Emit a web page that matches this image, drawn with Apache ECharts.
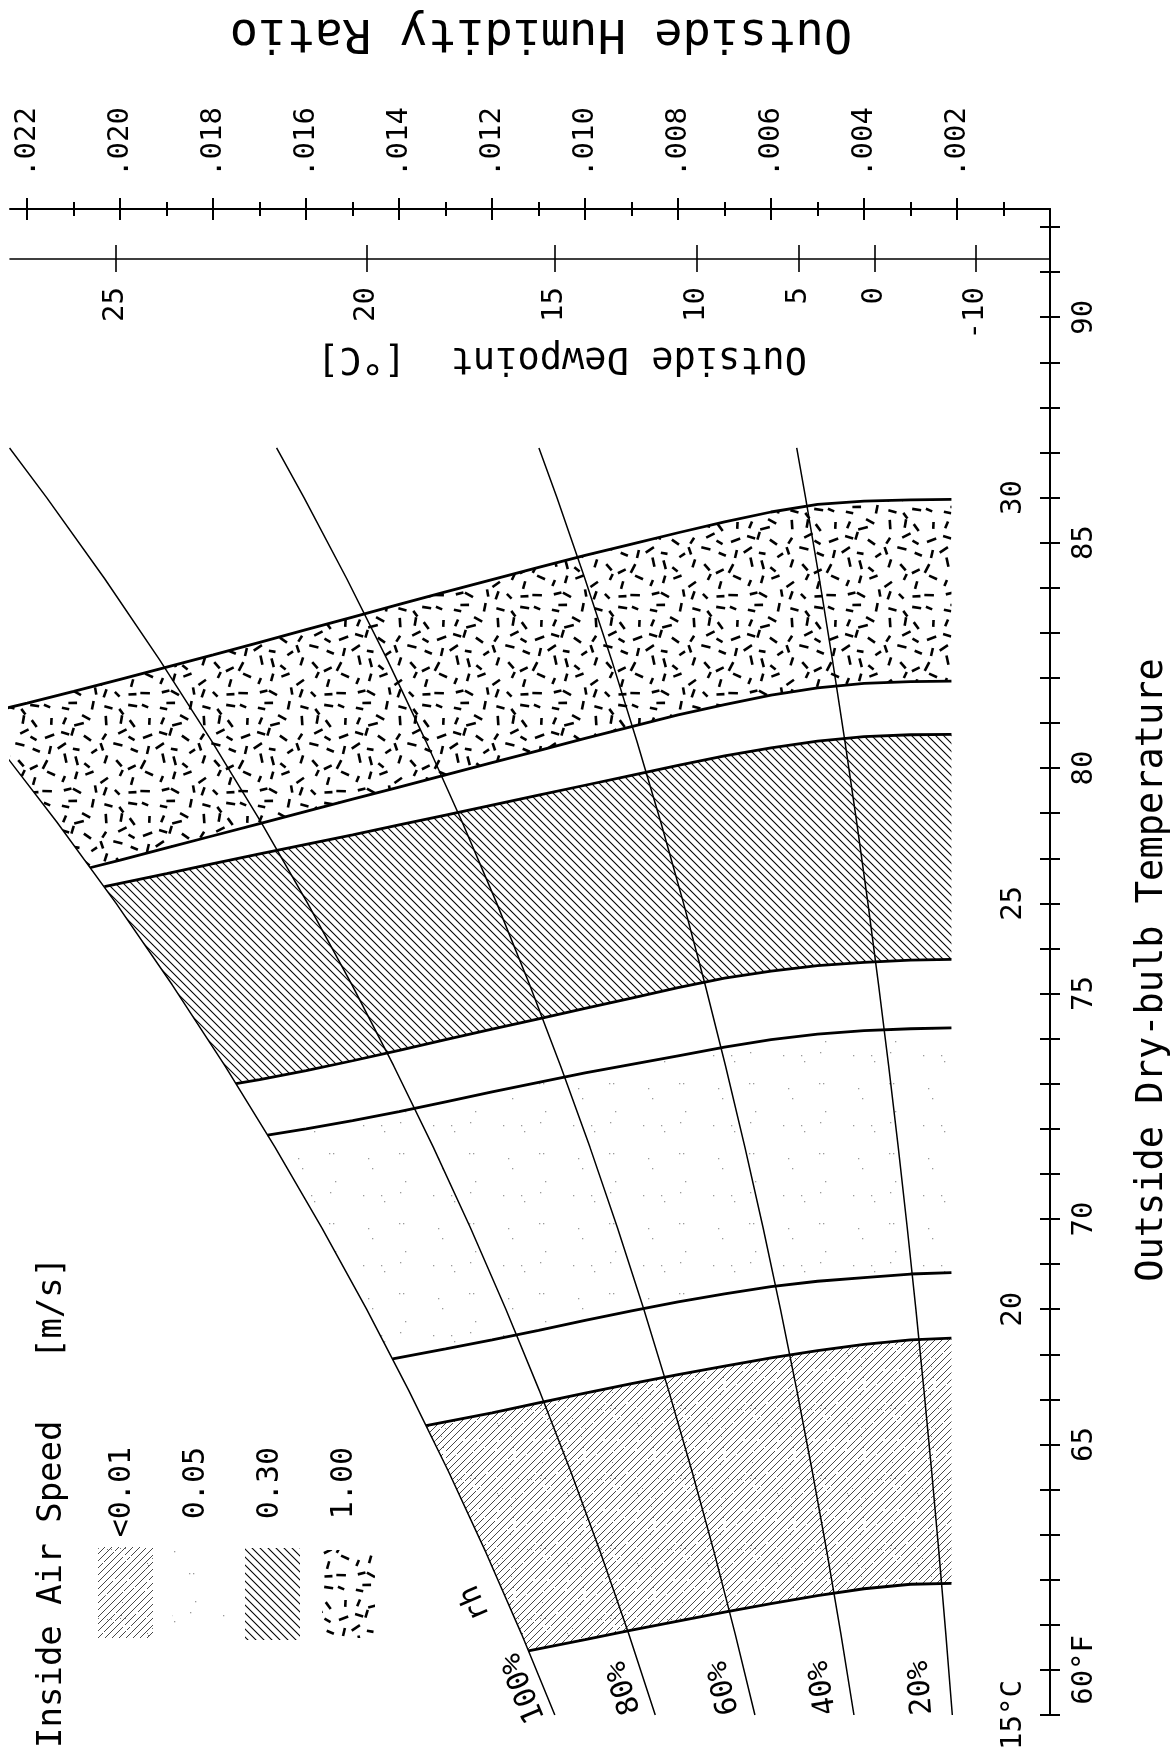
<!DOCTYPE html>
<html><head><meta charset="utf-8">
<script src="https://cdn.jsdelivr.net/npm/echarts@6/dist/echarts.min.js"></script>
<style>html,body{margin:0;padding:0;background:#fff}#c{width:1176px;height:1755px}</style>
</head><body><div id="c"></div>
<script>
// ---------------- data ----------------
const W_MAX = 0.02237, T_MIN = 59, T_MAX = 92.4;

const humidityTicks = [0.002,0.004,0.006,0.008,0.010,0.012,0.014,0.016,0.018,0.020,0.022];
const humidityMinorTicks = [0.001,0.003,0.005,0.007,0.009,0.011,0.013,0.015,0.017,0.019,0.021];
const dewpointLabels = ['25','20','15','10','5','0','-10'];
const dewpointW = [0.0201,0.0147,0.01065,0.0076,0.0054,0.00377,0.0016];
const fahrenheitLabels = [60,65,70,75,80,85,90];
const celsiusLabels = ['15°C','20','25','30'];
const celsiusAtF = [59,68,77,86];

// relative-humidity curves: [humidity ratio, dry-bulb °F]
const rhNames = ['100%','80%','60%','40%','20%'];
const rh100 = [[0.010651,59],[0.011369,60.8],[0.012131,62.6],[0.012938,64.4],[0.013794,66.2],[0.014700,68.0],[0.015659,69.8],[0.016674,71.6],[0.017749,73.4],[0.018885,75.2],[0.020087,77.0],[0.021359,78.8],[0.022703,80.6],[0.024124,82.4]];
const rh80 = [[0.008491,59],[0.009062,60.8],[0.009667,62.6],[0.010308,64.4],[0.010986,66.2],[0.011704,68.0],[0.012464,69.8],[0.013268,71.6],[0.014118,73.4],[0.015017,75.2],[0.015967,77.0],[0.016971,78.8],[0.018031,80.6],[0.019151,82.4],[0.020333,84.2],[0.021581,86.0],[0.022380,87.1]];
const rh60 = [[0.006347,59],[0.006772,60.8],[0.007222,62.6],[0.007699,64.4],[0.008204,66.2],[0.008737,68.0],[0.009302,69.8],[0.009898,71.6],[0.010529,73.4],[0.011195,75.2],[0.011899,77.0],[0.012642,78.8],[0.013426,80.6],[0.014253,82.4],[0.015126,84.2],[0.016046,86.0],[0.016636,87.1]];
const rh40 = [[0.004217,59],[0.004498,60.8],[0.004796,62.6],[0.005112,64.4],[0.005445,66.2],[0.005798,68.0],[0.006170,69.8],[0.006564,71.6],[0.006980,73.4],[0.007419,75.2],[0.007882,77.0],[0.008371,78.8],[0.008887,80.6],[0.009430,82.4],[0.010003,84.2],[0.010606,86.0],[0.010993,87.1]];
const rh20 = [[0.002101,59],[0.002241,60.8],[0.002389,62.6],[0.002545,64.4],[0.002711,66.2],[0.002885,68.0],[0.003070,69.8],[0.003265,71.6],[0.003471,73.4],[0.003688,75.2],[0.003916,77.0],[0.004158,78.8],[0.004412,80.6],[0.004680,82.4],[0.004962,84.2],[0.005258,86.0],[0.005448,87.1]];

// comfort-zone boundaries (from dry edge to saturation): [humidity ratio, °F]
const speedNames = ['<0.01','0.05','0.30','1.00'];
const b1 = [[0.00212,61.92],[0.0030,61.90],[0.0040,61.80],[0.0050,61.65],[0.0060,61.47],[0.0070,61.28],[0.0080,61.08],[0.0090,60.88],[0.0100,60.67],[0.01122,60.42]];
const b2 = [[0.00212,67.36],[0.0030,67.32],[0.0040,67.22],[0.0050,67.08],[0.0060,66.92],[0.0070,66.74],[0.0080,66.55],[0.0090,66.35],[0.0100,66.14],[0.0110,65.92],[0.0120,65.70],[0.01342,65.42]];
const b3 = [[0.00212,68.81],[0.0030,68.78],[0.0040,68.70],[0.0050,68.62],[0.0060,68.50],[0.0070,68.34],[0.0080,68.16],[0.0090,67.96],[0.0100,67.75],[0.0110,67.53],[0.0120,67.32],[0.0130,67.12],[0.01414,66.90]];
const b4 = [[0.00212,74.24],[0.0030,74.22],[0.0040,74.18],[0.0050,74.10],[0.0060,73.98],[0.0070,73.81],[0.0080,73.62],[0.0090,73.43],[0.0100,73.24],[0.0110,73.03],[0.0120,72.82],[0.0130,72.60],[0.0140,72.38],[0.0150,72.18],[0.0160,72.00],[0.01683,71.86]];
const b5 = [[0.00212,75.76],[0.0030,75.74],[0.0040,75.69],[0.0050,75.62],[0.0060,75.50],[0.0070,75.34],[0.0080,75.13],[0.0090,74.90],[0.0100,74.67],[0.0110,74.44],[0.0120,74.21],[0.0130,73.98],[0.0140,73.74],[0.0150,73.51],[0.0160,73.29],[0.0170,73.09],[0.01751,73.00]];
const b6 = [[0.00212,80.75],[0.0030,80.74],[0.0040,80.70],[0.0050,80.60],[0.0060,80.45],[0.0070,80.27],[0.0080,80.06],[0.0090,79.84],[0.0100,79.62],[0.0110,79.40],[0.0120,79.18],[0.0130,78.96],[0.0140,78.74],[0.0150,78.52],[0.0160,78.31],[0.0170,78.10],[0.0180,77.88],[0.0190,77.66],[0.02034,77.37]];
const b7 = [[0.00212,81.93],[0.0030,81.92],[0.0040,81.88],[0.0050,81.78],[0.0060,81.62],[0.0070,81.41],[0.0080,81.18],[0.0090,80.92],[0.0100,80.66],[0.0110,80.39],[0.0120,80.12],[0.0130,79.85],[0.0140,79.58],[0.0150,79.31],[0.0160,79.04],[0.0170,78.77],[0.0180,78.50],[0.0190,78.23],[0.0200,77.96],[0.02065,77.79]];
const b8 = [[0.00212,85.96],[0.0030,85.95],[0.0040,85.92],[0.0050,85.85],[0.0060,85.68],[0.0070,85.46],[0.0080,85.22],[0.0090,84.97],[0.0100,84.72],[0.0110,84.45],[0.0120,84.18],[0.0130,83.91],[0.0140,83.63],[0.0150,83.35],[0.0160,83.07],[0.0170,82.79],[0.0180,82.51],[0.0190,82.24],[0.0200,81.97],[0.0210,81.70],[0.0220,81.44],[0.02314,81.16]];

// ---------------- patterns ----------------
const FONT = '"DejaVu Sans Mono", "Liberation Mono", monospace';
function rng(a){return function(){a|=0;a=a+0x6D2B79F5|0;let t=Math.imul(a^a>>>15,1|a);t=t+Math.imul(t^t>>>7,61|t)^t;return((t^t>>>14)>>>0)/4294967296;};}
function cvs(w,h){const c=document.createElement('canvas');c.width=w;c.height=h;return c;}
function hatch(s, dir, color, lw){
  const c=cvs(s,s), g=c.getContext('2d');
  g.strokeStyle=color; g.lineWidth=lw;
  for(let k=-1;k<=2;k++){
    g.beginPath();
    const o=k*s;
    if(dir==='back'){ g.moveTo(-s,-s+o); g.lineTo(2*s,2*s+o); }
    else { g.moveTo(-s,s+o); g.lineTo(2*s,-2*s+o); }
    g.stroke();
  }
  return c;
}
function brokenHatch(size, step, color, lw, gaps, seed){
  const c=cvs(size,size), g=c.getContext('2d'), r=rng(seed);
  g.strokeStyle=color; g.lineWidth=lw;
  for(let cc=-step; cc<=2*size+step; cc+=step){
    g.beginPath(); g.moveTo(-step, cc+step); g.lineTo(size+step, cc-size-step); g.stroke();
  }
  g.fillStyle='#fff';
  for(let i=0;i<gaps;i++){ g.fillRect(2+Math.floor(r()*(size-5)), 2+Math.floor(r()*(size-5)), 2, 2); }
  g.fillStyle='#777';
  for(let i=0;i<gaps/2;i++){ g.fillRect(2+Math.floor(r()*(size-5)), 2+Math.floor(r()*(size-5)), 1, 1); }
  return c;
}
function dashes(size, cells, seed){
  const c=cvs(size,size), g=c.getContext('2d'), r=rng(seed), cs=size/cells;
  g.strokeStyle='#000'; g.lineWidth=2.6; g.lineCap='butt';
  for(let i=0;i<cells;i++) for(let j=0;j<cells;j++){
    const x=(i+0.5)*cs+(r()-0.5)*cs*0.7, y=(j+0.5)*cs+(r()-0.5)*cs*0.7;
    const a=r()*Math.PI, L=6.5+r()*3.5, dx=Math.cos(a)*L/2, dy=Math.sin(a)*L/2;
    for(const ox of [-size,0,size]) for(const oy of [-size,0,size]){
      g.beginPath(); g.moveTo(x-dx+ox,y-dy+oy); g.lineTo(x+dx+ox,y+dy+oy); g.stroke();
    }
  }
  return c;
}
function stipple(size, count, seed, color){
  const c=cvs(size,size), g=c.getContext('2d'), r=rng(seed);
  g.fillStyle=color;
  for(let i=0;i<count;i++){ g.fillRect(Math.floor(r()*size), Math.floor(r()*size), 1.3, 1.3); }
  return c;
}
const patterns = [
  {image: brokenHatch(70, 7, '#333', 0.9, 40, 5), repeat:'repeat'},
  {image: stipple(70, 9, 3, '#9a9a9a'), repeat:'repeat'},
  {image: hatch(8,'back','#000',1.1), repeat:'repeat'},
  {image: dashes(98, 7, 11), repeat:'repeat'}
];

// ---------------- chart ----------------
const zoneBounds = [[b1,b2],[b3,b4],[b5,b6],[b7,b8]];
function polygonOf(lower, upper){
  const tLow = lower[lower.length-1][1], tUp = upper[upper.length-1][1];
  const mids = rh100.filter(p => p[1] > tLow && p[1] < tUp);
  return lower.concat(mids, upper.slice().reverse());
}
const tempTicks = []; for(let t=59;t<=92;t++) tempTicks.push(t);

const lab = {fontFamily:FONT, fontSize:29, color:'#000'};
const xBase = {type:'value', min:0, max:W_MAX, inverse:true, position:'top', splitLine:{show:false},
  axisLine:{show:false, onZero:false}, axisLabel:{show:false}};
const tickStyle = {color:'#000', width:2};

const series = [];
zoneBounds.forEach((zb, i) => {
  const poly = polygonOf(zb[0], zb[1]);
  series.push({
    type:'custom', name:speedNames[i], coordinateSystem:'cartesian2d', xAxisIndex:0, yAxisIndex:0,
    clip:true, silent:true, z:1, data:poly, encode:{x:0, y:1},
    renderItem:(params, api) => {
      if (params.dataIndex !== 0) return null;
      return {type:'polygon', shape:{points: poly.map(p => api.coord(p))}, style:{fill: patterns[i], stroke:null}};
    }
  });
});
[rh100, rh80, rh60, rh40, rh20].forEach((d, i) => {
  series.push({type:'line', name:'rh '+rhNames[i], data:d, xAxisIndex:0, yAxisIndex:0, symbol:'none', silent:true,
    clip:true, z:3, lineStyle:{color:'#000', width:1.5}});
});
[b1,b2,b3,b4,b5,b6,b7,b8].forEach((d, i) => {
  series.push({type:'line', name:'boundary '+(i+1), data:d, xAxisIndex:0, yAxisIndex:0, symbol:'none', silent:true,
    clip:true, z:4, lineStyle:{color:'#000', width:2.8}});
});

const chart = echarts.init(document.getElementById('c'), null, {renderer:'canvas'});
chart.setOption({
  animation:false,
  backgroundColor:'#fff',
  grid:{left:10, right:126, top:209, bottom:40, containLabel:false, outerBoundsMode:'none'},
  xAxis:[
    Object.assign({}, xBase, {axisLine:{show:true, onZero:false, lineStyle:{color:'#000', width:2}},
      axisTick:{show:true, customValues:humidityTicks, length:11, lineStyle:tickStyle},
      axisLabel:Object.assign({show:true, customValues:humidityTicks, rotate:-90, margin:32,
        formatter:v => '.' + String(Math.round(v*1000)).padStart(3,'0')}, lab)}),
    Object.assign({}, xBase, {axisTick:{show:true, inside:true, customValues:humidityTicks, length:11, lineStyle:tickStyle}}),
    Object.assign({}, xBase, {axisTick:{show:true, customValues:humidityMinorTicks, length:7, lineStyle:tickStyle}}),
    Object.assign({}, xBase, {axisTick:{show:true, inside:true, customValues:humidityMinorTicks, length:7, lineStyle:tickStyle}}),
    Object.assign({}, xBase, {offset:-50, axisLine:{show:true, onZero:false, lineStyle:{color:'#000', width:1.6}},
      axisTick:{show:true, customValues:dewpointW, length:14, lineStyle:{color:'#000', width:1.6}}}),
    Object.assign({}, xBase, {offset:-50,
      axisTick:{show:true, inside:true, customValues:dewpointW, length:13, lineStyle:{color:'#000', width:1.6}},
      axisLabel:Object.assign({show:true, inside:true, customValues:dewpointW, rotate:-90, margin:28,
        formatter:v => { let bi=0; dewpointW.forEach((w,k)=>{ if(Math.abs(w-v)<Math.abs(dewpointW[bi]-v)) bi=k; }); return dewpointLabels[bi]; }}, lab)})
  ],
  yAxis:[
    {type:'value', min:T_MIN, max:T_MAX, position:'right', splitLine:{show:false},
      axisLine:{show:true, onZero:false, lineStyle:{color:'#000', width:2}},
      axisTick:{show:true, customValues:tempTicks, length:10, lineStyle:tickStyle},
      axisLabel:Object.assign({show:true, customValues:fahrenheitLabels, rotate:90, margin:20,
        formatter:v => v===60 ? '60°F' : String(v)}, lab)},
    {type:'value', min:T_MIN, max:T_MAX, position:'right', splitLine:{show:false},
      axisLine:{show:false, onZero:false},
      axisTick:{show:true, inside:true, customValues:tempTicks, length:10, lineStyle:tickStyle},
      axisLabel:Object.assign({show:true, inside:true, customValues:celsiusAtF, rotate:90, margin:22,
        formatter:v => celsiusLabels[celsiusAtF.indexOf(v)] || ''}, lab)}
  ],
  series: series
});

// ---------------- texts, legend ----------------
function txt(text, x, y, rot, size, align){
  return {type:'text', x:x, y:y, rotation:rot, silent:true, z:50,
    style:{text:text, fill:'#000', font: size+'px '+FONT, fontSize:size, fontFamily:FONT,
      align:align||'center', textAlign:align||'center', verticalAlign:'middle', textVerticalAlign:'middle'}};
}
const toPx = p => chart.convertToPixel({xAxisIndex:0, yAxisIndex:0}, p);
const graphics = [
  txt('Outside Humidity Ratio', 541, 32, Math.PI, 47),
  txt('Outside Dewpoint  [°C]', 562, 358, Math.PI, 37),
  txt('Outside Dry-bulb Temperature', 1152, 970, Math.PI/2, 37),
  txt('Inside Air Speed   [m/s]', 52, 1748, Math.PI/2, 34, 'left')
];
const swatches = [[98,1547,55,91],[172,1547,55,91],[245,1548,55,92],[322,1550,53,88]];
const legendTextX = [122,196,270,344];
speedNames.forEach((n,i) => {
  const s = swatches[i];
  graphics.push({type:'rect', shape:{x:s[0], y:s[1], width:s[2], height:s[3]}, style:{fill:patterns[i], stroke:null}, silent:true, z:40});
  graphics.push(txt(n, legendTextX[i], 1447, Math.PI/2, 30, 'right'));
});
[rh100, rh80, rh60, rh40, rh20].forEach((d,i) => {
  const p0 = toPx(d[0]), p1 = toPx(d[1]);
  const ang = Math.atan2(-(p1[1]-p0[1]), p1[0]-p0[0]);
  graphics.push(txt(rhNames[i], p0[0]-31, p0[1]-27, ang, 30));
});
{
  const p1 = toPx(rh100[1]), p2 = toPx(rh100[2]);
  const ang = Math.atan2(-(p2[1]-p1[1]), p2[0]-p1[0]);
  graphics.push(txt('rh', p1[0]-46, p1[1]-31, ang, 30));
}
chart.setOption({graphic: graphics});
</script></body></html>
